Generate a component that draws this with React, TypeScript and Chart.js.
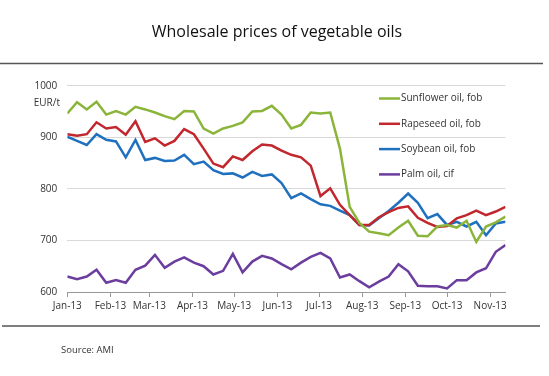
import React, { useEffect, useRef } from "react";
import { Chart, registerables } from "chart.js";

Chart.register(...registerables);

const monthLabels = ["Jan-13", "Feb-13", "Mar-13", "Apr-13", "May-13", "Jun-13", "Jul-13", "Aug-13", "Sep-13", "Oct-13", "Nov-13"];

const seriesNames = ["Sunflower oil, fob", "Rapeseed oil, fob", "Soybean oil, fob", "Palm oil, cif"];

const sunflower = [946, 968, 954, 969, 944, 951, 944, 959, 954, 948, 941, 935,
  951, 950, 917, 907, 917, 922, 929, 950, 951, 961, 944,
  917, 924, 948, 946, 948, 878, 765, 734, 717, 714, 710,
  725, 738, 709, 708, 727, 730, 725, 738, 697, 727, 735, 746];

const rapeseed = [906, 903, 906, 929, 917, 920, 905, 931, 891, 898, 884, 893,
  916, 906, 878, 849, 842, 863, 856, 873, 886, 884, 874,
  866, 861, 845, 786, 801, 769, 749, 730, 730, 745, 755,
  763, 766, 744, 734, 726, 728, 743, 749, 758, 749, 756, 765];

const soybean = [901, 893, 885, 906, 895, 892, 861, 895, 856, 860, 854, 855,
  866, 848, 853, 836, 829, 830, 822, 833, 825, 828, 811,
  782, 791, 780, 770, 767, 758, 749, 730, 729, 743, 757,
  773, 791, 773, 743, 751, 730, 736, 727, 736, 710, 733, 736];

const palm = [630, 625, 630, 643, 618, 623, 618, 643, 651, 672, 647, 659,
  667, 657, 650, 634, 641, 674, 638, 659, 670, 665, 654,
  644, 657, 668, 676, 665, 628, 634, 621, 609, 620, 630,
  654, 640, 612, 611, 611, 607, 623, 623, 638, 646, 678, 691];

const colors = ["#8ab53a", "#c1272d", "#1f70bf", "#6b3d9e"];

const FONT = "'Open Sans', 'DejaVu Sans', sans-serif";

// week offset of the first day of each month (data are weekly from 1 Jan 2013)
const monthPos = monthLabels.map((_, m) => (Date.UTC(2013, m, 1) - Date.UTC(2013, 0, 1)) / (7 * 864e5));

const decorPlugin = {
  id: "decor",
  afterDraw(chart: any) {
    const ctx = chart.ctx;
    ctx.save();
    // frame lines
    ctx.strokeStyle = "#555";
    ctx.lineWidth = 1.5;
    ctx.beginPath();
    ctx.moveTo(0, 63.5);
    ctx.lineTo(543, 63.5);
    ctx.moveTo(2, 326);
    ctx.lineTo(540, 326);
    ctx.stroke();
    // title
    ctx.fillStyle = "#111";
    ctx.font = `16px ${FONT}`;
    ctx.textAlign = "center";
    ctx.textBaseline = "middle";
    ctx.fillText("Wholesale prices of vegetable oils", 277, 32);
    // unit
    ctx.fillStyle = "#333";
    ctx.font = `10px ${FONT}`;
    ctx.textAlign = "right";
    ctx.fillText("EUR/t", 60, 103);
    // source
    ctx.textAlign = "left";
    ctx.font = `9.5px ${FONT}`;
    ctx.fillText("Source: AMI", 61, 350);
    // legend
    ctx.font = `10px ${FONT}`;
    seriesNames.forEach((name, k) => {
      const y = 98.5 + 25.3 * k;
      ctx.strokeStyle = colors[k];
      ctx.lineWidth = 2.5;
      ctx.beginPath();
      ctx.moveTo(379, y);
      ctx.lineTo(400, y);
      ctx.stroke();
      ctx.fillStyle = "#333";
      ctx.textAlign = "left";
      ctx.fillText(name, 401, y);
    });
    ctx.restore();
  },
};

export default function App() {
  const ref = useRef<HTMLCanvasElement>(null);
  useEffect(() => {
    const all = [sunflower, rapeseed, soybean, palm];
    const chart = new Chart(ref.current!, {
      type: "line",
      data: {
        datasets: all.map((arr, k) => ({
          label: seriesNames[k],
          data: arr.map((v, i) => ({ x: i, y: v })),
          borderColor: colors[k],
          backgroundColor: colors[k],
          borderWidth: 2.5,
          pointRadius: 0,
          tension: 0,
          fill: false,
        })),
      },
      options: {
        animation: false,
        responsive: true,
        maintainAspectRatio: false,
        layout: { padding: { top: 85.7, right: 43.5, left: 0, bottom: 0 } },
        plugins: { legend: { display: false }, tooltip: { enabled: false }, title: { display: false } },
        scales: {
          x: {
            type: "linear",
            min: 0,
            max: sunflower.length - 1,
            afterFit: (s: any) => { s.height = 84; },
            afterBuildTicks: (s: any) => { s.ticks = monthPos.map((v) => ({ value: v })); },
            ticks: {
              autoSkip: false,
              maxRotation: 0,
              padding: 3,
              color: "#333",
              font: { family: FONT, size: 10 },
              callback: (_v: any, i: number) => monthLabels[i],
            },
            grid: { drawOnChartArea: false, drawTicks: true, tickLength: 5, color: "#999" },
            border: { display: true, color: "#999", width: 1 },
          },
          y: {
            min: 600,
            max: 1000,
            afterFit: (s: any) => { s.width = 67.3; },
            ticks: {
              stepSize: 100,
              padding: 10,
              color: "#333",
              font: { family: FONT, size: 10 },
              callback: (v: any) => String(v),
            },
            grid: { drawTicks: false, color: "#d9d9d9", lineWidth: 1 },
            border: { display: false },
          },
        },
      },
      plugins: [decorPlugin],
    } as any);
    return () => chart.destroy();
  }, []);
  return (
    <div style={{ position: "fixed", left: 0, top: 0, width: 549, height: 376, background: "#fff" }}>
      <canvas ref={ref} />
    </div>
  );
}
